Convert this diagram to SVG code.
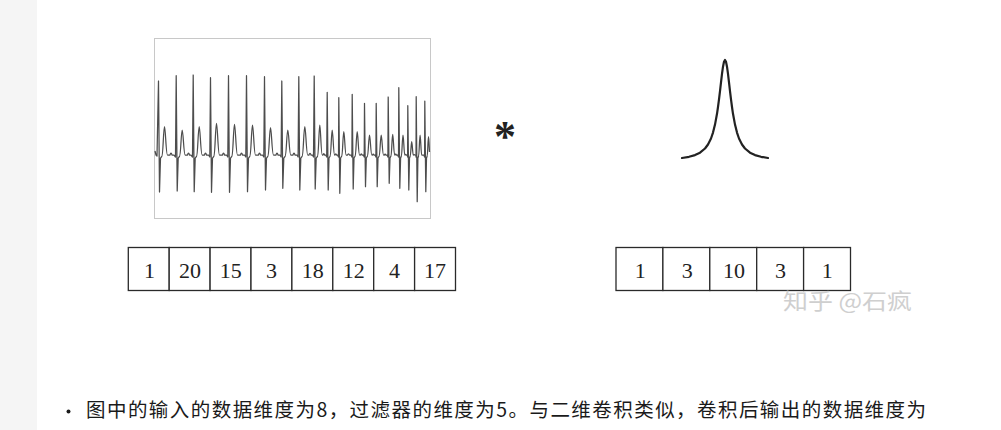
<svg xmlns="http://www.w3.org/2000/svg" width="1001" height="430" viewBox="0 0 1001 430">
<style>
.cell{fill:#fff;stroke:#2a2a2a;stroke-width:1.3}
.num{font-family:"Liberation Serif","DejaVu Serif",serif;font-size:22px;fill:#222;text-anchor:middle}
.ecg{fill:none;stroke:#4d4d4d;stroke-width:1.25;stroke-linejoin:round}
.cap{font-family:"Noto Sans CJK SC","Noto Sans",sans-serif;font-size:19.5px;fill:#1a1a1a}
</style>
<rect x="0" y="0" width="1001" height="430" fill="#fff"/>
<rect x="0" y="0" width="37" height="430" fill="#f5f5f5"/>

<g id="signal">
<rect x="154.5" y="38.5" width="276" height="180" fill="#fff" stroke="#c8c8c8" stroke-width="1"/>
<path class="ecg" d="M155,151 L156,155 L157,156 L158.5,81 L159.5,192 L160.5,158 L162,156 C163,156 163.5,126.7 164.5,126.7 C165.5,126.7 166,155 167.5,155 L170,155 Q171,151 172,155 L174,155
L175.5,157 L176.2,75.7 L177.2,191 L178.2,158 L179.7,156 C180.7,156 181.2,130 182.2,130 C183.2,130 183.7,155 185.2,155 L187.5,155 Q188.5,151 189.5,155 L191,155
L192.5,157 L193.2,75 L194.2,191.7 L195.2,158 L196.7,156 C197.7,156 198.2,126.7 199.2,126.7 C200.2,126.7 200.7,155 202.2,155 L204.5,155 Q205.5,151 206.5,155 L208.5,155
L209.8,157 L210.5,77.7 L211.5,192.3 L212.5,158 L214,156 C215,156 215.5,123.3 216.5,123.3 C217.5,123.3 218,155 219.5,155 L222.5,155 Q223.5,151 224.5,155 L226.5,155
L227.8,157 L228.5,75.7 L229.5,192.3 L230.5,158 L232,156 C233,156 233.5,124.3 234.5,124.3 C235.5,124.3 236,155 237.5,155 L240.5,155 Q241.5,151 242.5,155 L244.5,155
L245.8,157 L246.5,75.7 L247.5,191.7 L248.5,158 L250,156 C251,156 251.5,125 252.5,125 C253.5,125 254,155 255.5,155 L258.5,155 Q259.5,151 260.5,155 L262.5,155
L263.8,157 L264.5,76.7 L265.5,190 L266.5,158 L268,156 C269,156 269.5,127.7 270.5,127.7 C271.5,127.7 272,155 273.5,155 L276,155 Q277,151 278,155 L280,155
L281.1,157 L281.8,81 L282.8,188.3 L283.8,158 L285.3,156 C286.3,156 286.8,130 287.8,130 C288.8,130 289.3,155 290.8,155 L293,155 Q294,151 295,155 L297,155
L298.1,157 L298.8,76.7 L299.8,190 L300.8,158 L302.3,156 C303.3,156 303.8,126.7 304.8,126.7 C305.8,126.7 306.3,155 307.8,155 L309,155 Q310,151.5 311,155 L312.5,155
L313.5,157 L314.2,76 L315.2,189 L316.2,158 L317.7,156 C318.5,156 319,125 319.8,125 C320.6,125 321,155 322.3,155 L323,155 Q323.8,152 324.6,155 L325.8,155
L326.7,157 L327.2,92.3 L328.2,190 L329,158 L330.2,156 C331,156 331.4,130 332.2,130 C333,130 333.4,155 334.6,155 L335,155 Q335.8,152.5 336.6,155 L337.6,155
L338.5,157 L338.8,97.7 L339.8,193.3 L340.6,158 L341.8,156 C342.6,156 343,131.7 343.8,131.7 C344.6,131.7 345,155 346.2,155 L347.5,155 Q348.5,152.5 349.5,155 L351,155
L351.9,157 L352.2,94.3 L353.2,189 L354,158 L355.2,156 C356,156 356.4,131.7 357.2,131.7 C358,131.7 358.4,155 359.6,155 L360.5,155 Q361.3,152.5 362.1,155 L363.4,155
L364.2,157 L364.5,103.3 L365.5,186.7 L366.3,158 L367.5,156 C368.3,156 368.7,135 369.5,135 C370.3,135 370.7,155 371.9,155 L372.5,155 Q373.2,153 373.9,155 L375.1,155
L375.9,157 L376.2,103.3 L377.2,186.7 L378,158 L379.2,156 C380,156 380.4,135 381.2,135 C382,135 382.4,155 383.6,155 L384.4,155 Q385.1,153 385.8,155 L387.1,155
L387.9,157 L388.2,97 L389.2,183.3 L390,158 L391,156 C391.7,156 392,134.3 392.7,134.3 C393.4,134.3 393.7,155 394.7,155 L395,155 Q395.7,153 396.4,155 L397.7,155
L398.5,157 L398.8,87.7 L399.8,188.3 L400.6,158 L401.4,156 C402,156 402.3,135 403,135 C403.7,135 404,155 404.8,155 L405,155 Q405.6,153.5 406.2,155 L407.3,155
L407.6,157 L407.8,105.7 L408.8,190 L409.5,158 L410.2,156 C410.8,156 411.1,141.7 411.7,141.7 C412.3,141.7 412.6,155 413.3,155 L413.5,155 Q414.2,154 414.8,155 L416,155
L416,157 L416.2,96.7 L417.2,201.7 L417.9,158 L418.6,156 C419.2,156 419.5,135 420.1,135 C420.7,135 421,155 421.7,155 L423.9,155
L424.6,157 L424.8,101 L425.8,191.7 L426.5,158 L427.2,156 C427.7,156 428,136.7 428.5,136.7 C429,136.7 429.3,150 429.5,152"/>
</g>

<g id="convolve">
<text x="505" y="151" font-family="Liberation Serif,DejaVu Serif,serif" font-size="44" font-weight="bold" fill="#222" text-anchor="middle">*</text>
</g>

<g id="filter-curve">
<polyline fill="none" stroke="#222" stroke-width="2.2" stroke-linejoin="round" stroke-linecap="round" points="682,158 689,156.8 695,155.1 700,152.7 705,148.5 708,144.5 711,138.5 713,132.6 715,124.6 717,113.8 718,107 719,99.4 720,91.1 721,82.4 722,73.9 723,66.7 724,61.8 725,60 726,61.8 727,66.7 728,73.9 729,82.4 730,91.1 731,99.4 732,107 733,113.8 735,124.6 737,132.6 739,138.5 742,144.5 745,148.5 750,152.7 755,155.1 761,156.8 768,158"/>
</g>

<g id="input-array">
<rect class="cell" x="128.3" y="247.5" width="40.9" height="43"/>
<rect class="cell" x="169.2" y="247.5" width="40.9" height="43"/>
<rect class="cell" x="210.1" y="247.5" width="40.9" height="43"/>
<rect class="cell" x="251" y="247.5" width="40.9" height="43"/>
<rect class="cell" x="291.9" y="247.5" width="40.9" height="43"/>
<rect class="cell" x="332.8" y="247.5" width="40.9" height="43"/>
<rect class="cell" x="373.7" y="247.5" width="40.9" height="43"/>
<rect class="cell" x="414.6" y="247.5" width="40.9" height="43"/>
<text class="num" x="149.5" y="277.5">1</text>
<text class="num" x="190" y="277.5">20</text>
<text class="num" x="230.8" y="277.5">15</text>
<text class="num" x="271.5" y="277.5">3</text>
<text class="num" x="312.8" y="277.5">18</text>
<text class="num" x="353.7" y="277.5">12</text>
<text class="num" x="394.5" y="277.5">4</text>
<text class="num" x="435" y="277.5">17</text>
</g>

<g id="filter-array">
<rect class="cell" x="616" y="247.5" width="46.9" height="43"/>
<rect class="cell" x="662.9" y="247.5" width="46.9" height="43"/>
<rect class="cell" x="709.8" y="247.5" width="46.9" height="43"/>
<rect class="cell" x="756.7" y="247.5" width="46.9" height="43"/>
<rect class="cell" x="803.6" y="247.5" width="46.9" height="43"/>
<text class="num" x="640.3" y="277.5">1</text>
<text class="num" x="687.2" y="277.5">3</text>
<text class="num" x="734" y="277.5">10</text>
<text class="num" x="780.6" y="277.5">3</text>
<text class="num" x="827.3" y="277.5">1</text>
</g>

<g id="watermark">
<text x="783" y="309" font-family="Noto Sans CJK SC,Noto Sans,sans-serif" font-size="22" fill="#cfcfcf" textLength="129" lengthAdjust="spacingAndGlyphs">知乎 @石疯</text>
</g>

<g id="caption">
<circle cx="68.5" cy="411.5" r="2" fill="#1a1a1a"/>
<text class="cap" x="86" y="417" textLength="840" lengthAdjust="spacing">图中的输入的数据维度为8，过滤器的维度为5。与二维卷积类似，卷积后输出的数据维度为</text>
</g>
</svg>
